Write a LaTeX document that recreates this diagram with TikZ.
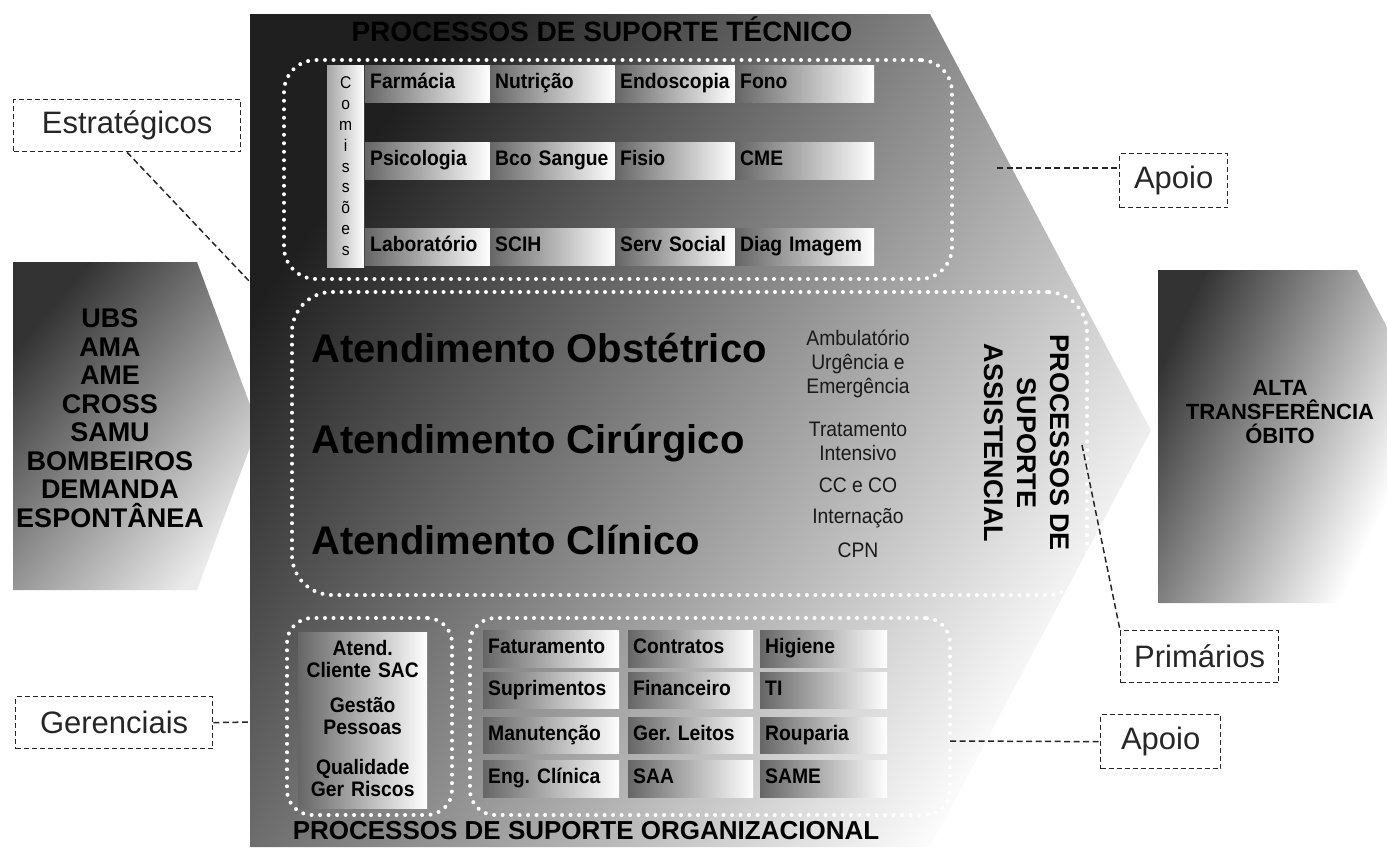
\documentclass[tikz,border=0pt]{standalone}
\usepackage{fontspec}
\setmainfont{Liberation Sans}
\newfontfamily\cellfont[FakeStretch=0.92]{Liberation Sans}
\frenchspacing
\begin{document}
\begin{tikzpicture}[x=1pt, y=-1pt,
  cell/.style={anchor=north west, inner xsep=5pt, inner ysep=0pt, minimum height=37pt, align=left,
    text height=15pt, text depth=5pt,
    left color=black!60, right color=white, text=black, font=\cellfont\bfseries\fontsize{21}{23}\selectfont},
  lcell/.style={anchor=north west, inner sep=0pt, minimum width=129pt, text width=125pt, align=center,
    left color=black!60, right color=white, text=black, font=\cellfont\bfseries\fontsize{21}{22}\selectfont},
  dotbox/.style={draw=white, line width=4pt, dash pattern=on 0pt off 8.5pt, line cap=round, inner sep=0pt, anchor=north west},
  tag/.style={draw=black!85, line width=1.3pt, dash pattern=on 5pt off 3pt, fill=white, inner sep=0pt,
    anchor=north west, font=\fontsize{31}{36}\selectfont, text=black!85},
  conn/.style={draw=black!85, line width=1.5pt, dash pattern=on 6pt off 3.5pt},
  bigt/.style={font=\bfseries\fontsize{40}{44}\selectfont, anchor=west, inner sep=0pt, text=black},
  small/.style={font=\cellfont\fontsize{21}{24}\selectfont, align=center, inner sep=0pt, text=black!90},
]
\useasboundingbox (0,0) rectangle (1387,847);

% side shapes
\shade[top color=black!80, bottom color=white!92!black, shading angle=50]
  (13,262) -- (197,262) -- (258,426) -- (197,590) -- (13,590) -- cycle;
\shade[top color=black!80, bottom color=white, shading angle=65]
  (1158,270) -- (1357,270) -- (1387,327) -- (1387,546) -- (1357,603) -- (1158,603) -- cycle;

% main shape
\shade[top color=black!88, middle color=black!55, bottom color=white, shading angle=55]
  (250,14) -- (930,14) -- (1151,430.5) -- (930,847) -- (250,847) -- cycle;

% dotted groups
\node[dotbox, rounded corners=32pt, minimum width=668pt, minimum height=219pt] (tec) at (282,58) {};
\node[dotbox, rounded corners=40pt, minimum width=795pt, minimum height=303pt] (assistbox) at (290,290) {};
\node[dotbox, rounded corners=25pt, minimum width=165pt, minimum height=197pt] (gerbox) at (285,616) {};
\node[dotbox, rounded corners=25pt, minimum width=480pt, minimum height=197pt] (apbox) at (468,616) {};

% titles
\node[font=\bfseries\fontsize{28}{30}\selectfont, inner sep=0pt] (ttec) at (602,29) {PROCESSOS DE SUPORTE TÉCNICO};
\node[font=\bfseries\fontsize{26}{28}\selectfont, inner sep=0pt] (torg) at (586,831) {PROCESSOS DE SUPORTE ORGANIZACIONAL};
\node[rotate=-90, align=center, inner sep=0pt, font=\bfseries\fontsize{27}{33}\selectfont] (tass) at (1027,443)
  {PROCESSOS DE\\SUPORTE\\ASSISTENCIAL};

% Comissoes column
\node[anchor=north west, inner sep=0pt, minimum width=37pt, minimum height=202pt, left color=black!35, right color=white,
  align=center, font=\cellfont\fontsize{17}{20.8}\selectfont] (com) at (327,65) {C\\o\\m\\i\\s\\s\\õ\\e\\s};

% technical grid
\node[cell, text width=115pt] (farm) at (365,65) {Farmácia};
\node[cell, text width=115pt] (nutr) at (490,65) {Nutrição};
\node[cell, text width=110pt] (endo) at (615,65) {Endoscopia};
\node[cell, text width=129pt] (fono) at (735,65) {Fono};
\node[cell, text width=115pt] (psic) at (365,142) {Psicologia};
\node[cell, text width=115pt] (bco) at (490,142) {Bco Sangue};
\node[cell, text width=110pt] (fisio) at (615,142) {Fisio};
\node[cell, text width=129pt] (cme) at (735,142) {CME};
\node[cell, text width=115pt] (lab) at (365,228) {Laboratório};
\node[cell, text width=115pt] (scih) at (490,228) {SCIH};
\node[cell, text width=110pt] (serv) at (615,228) {Serv Social};
\node[cell, text width=129pt] (diag) at (735,228) {Diag Imagem};

% assistencial
\node[bigt] (obst) at (311,348) {Atendimento Obstétrico};
\node[bigt] (cir) at (311,443) {Atendimento Cirúrgico};
\node[bigt] (cli) at (311,540) {Atendimento Clínico};
\node[small] (amb) at (858,364) {Ambulatório\\Urgência e\\Emergência};
\node[small] (trat) at (858,441.5) {Tratamento\\Intensivo};
\node[small] (ccco) at (858,485) {CC e CO};
\node[small] (inter) at (858,518) {Internação};
\node[small] (cpn) at (858,550) {CPN};

% gerenciais
\node[lcell, minimum height=53pt] (sac) at (298,632) {Atend.\\Cliente SAC};
\node[lcell, minimum height=62pt] (gp) at (298,685) {Gestão\\Pessoas};
\node[lcell, minimum height=60pt] (qual) at (298,748) {Qualidade\\Ger Riscos};

% apoio organizacional grid
\node[cell, minimum height=37pt, text width=126pt] (fat) at (483,630) {Faturamento};
\node[cell, minimum height=37pt, text width=115pt] (contr) at (628,630) {Contratos};
\node[cell, minimum height=37pt, text width=117pt] (hig) at (760,630) {Higiene};
\node[cell, minimum height=36pt, text width=126pt] (supr) at (483,672) {Suprimentos};
\node[cell, minimum height=36pt, text width=115pt] (fin) at (628,672) {Financeiro};
\node[cell, minimum height=36pt, text width=117pt] (ti) at (760,672) {TI};
\node[cell, minimum height=36pt, text width=126pt] (man) at (483,717) {Manutenção};
\node[cell, minimum height=36pt, text width=115pt] (leit) at (628,717) {Ger. Leitos};
\node[cell, minimum height=36pt, text width=117pt] (roup) at (760,717) {Rouparia};
\node[cell, minimum height=37pt, text width=126pt] (eng) at (483,760) {Eng. Clínica};
\node[cell, minimum height=37pt, text width=115pt] (saa) at (628,760) {SAA};
\node[cell, minimum height=37pt, text width=117pt] (same) at (760,760) {SAME};

% side texts
\node[font=\bfseries\fontsize{27}{28.5}\selectfont, align=center, inner sep=0pt] (ubs) at (110,418)
  {UBS\\AMA\\AME\\CROSS\\SAMU\\BOMBEIROS\\DEMANDA\\ESPONTÂNEA};
\node[font=\bfseries\fontsize{22}{24}\selectfont, align=center, inner sep=0pt] (alta) at (1280,412)
  {ALTA\\TRANSFERÊNCIA\\ÓBITO};

% labels
\node[tag, minimum width=227pt, minimum height=52pt] (estr) at (13,99) {Estratégicos};
\node[tag, minimum width=108pt, minimum height=54pt] (apoio1) at (1119,153) {Apoio};
\node[tag, minimum width=158pt, minimum height=52pt] (prim) at (1120,630) {Primários};
\node[tag, minimum width=120pt, minimum height=54pt] (apoio2) at (1100,714) {Apoio};
\node[tag, minimum width=197pt, minimum height=52pt] (ger) at (15,696) {Gerenciais};

% connectors
\coordinate (estrEnd) at (250,282);
\coordinate (gerEnd) at (250,722);
\coordinate (ap1Start) at (997,168);
\coordinate (primStart) at (1082,445);
\coordinate (ap2Start) at (950,741);
\draw[conn] (estr.south) -- (estrEnd);
\draw[conn] (ger.east) -- (gerEnd);
\draw[conn] (ap1Start) -- (ap1Start -| apoio1.west);
\draw[conn] (primStart) -- (prim.north west);
\draw[conn] (ap2Start) -- (apoio2.west);
\end{tikzpicture}
\end{document}
